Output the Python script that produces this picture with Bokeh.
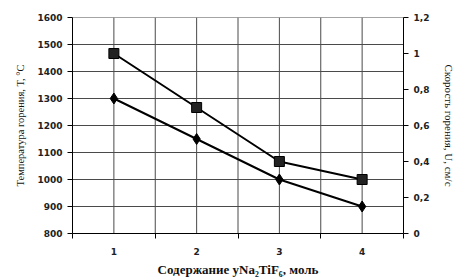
from bokeh.plotting import figure
from bokeh.models import Range1d, LinearAxis, FixedTicker, ColumnDataSource
from bokeh.embed import file_html
from bokeh.resources import INLINE

content = [1, 2, 3, 4]
temperature = [1300, 1150, 1000, 900]
speed = [1.0, 0.7, 0.4, 0.3]
x_labels = ["1", "2", "3", "4"]
x_grid = [1, 1.5, 2, 2.5, 3, 3.5, 4]
left_ticks = [800, 900, 1000, 1100, 1200, 1300, 1400, 1500, 1600]
right_ticks = [0, 0.2, 0.4, 0.6, 0.8, 1.0, 1.2]
right_labels = ["0", "0,2", "0,4", "0,6", "0,8", "1", "1,2"]

x_lo, x_hi = 0.5, 4.5
t_lo, t_hi = left_ticks[0], left_ticks[-1]

p = figure(width=463, height=279, output_backend="svg", toolbar_location=None,
           x_range=Range1d(x_lo, x_hi), y_range=Range1d(t_lo, t_hi),
           min_border_left=72, min_border_right=60, min_border_top=17, min_border_bottom=39)
p.outline_line_color = None
p.background_fill_color = "white"
p.border_fill_color = "white"
p.extra_y_ranges = {"u": Range1d(right_ticks[0], right_ticks[-1])}

tick_font = "DejaVu Sans"
grid_col = "#4a4a4a"

# x axis
xa = p.xaxis[0]
xa.ticker = FixedTicker(ticks=content, minor_ticks=[0.5, 1.5, 2.5, 3.5, 4.5])
xa.major_label_overrides = {c: l for c, l in zip(content, x_labels)}
xa.major_tick_out = 0
xa.major_tick_in = 0
xa.minor_tick_out = 5
xa.minor_tick_in = 0
xa.minor_tick_line_color = "black"
xa.axis_line_color = "black"
xa.major_label_text_font = tick_font
xa.major_label_text_font_style = "bold"
xa.major_label_text_font_size = "9px"
xa.major_label_text_color = "#222222"
xa.major_label_standoff = 9
xa.axis_label = "Содержание yNa\u2082TiF\u2086, моль"
xa.axis_label_text_font = "Liberation Serif"
xa.axis_label_text_font_style = "bold"
xa.axis_label_text_font_size = "13px"
xa.axis_label_text_color = "#111111"
xa.axis_label_standoff = 4

# left axis
ya = p.yaxis[0]
ya.ticker = FixedTicker(ticks=left_ticks)
ya.minor_tick_line_color = None
ya.major_tick_out = 5
ya.major_tick_in = 0
ya.axis_line_color = "black"
ya.major_label_text_font = tick_font
ya.major_label_text_font_style = "bold"
ya.major_label_text_font_size = "9px"
ya.major_label_text_color = "#222222"
ya.major_label_standoff = 5
ya.axis_label = "Температура горения, T, \u00b0C"
ya.axis_label_text_font = "Liberation Serif"
ya.axis_label_text_font_style = "normal"
ya.axis_label_text_font_size = "10.5px"
ya.axis_label_text_color = "#111111"
ya.axis_label_standoff = 8

# right axis
ra = LinearAxis(y_range_name="u", ticker=FixedTicker(ticks=right_ticks))
ra.major_label_overrides = {t: l for t, l in zip(right_ticks, right_labels)}
ra.minor_tick_line_color = None
ra.major_tick_out = 5
ra.major_tick_in = 0
ra.axis_line_color = "black"
ra.major_label_text_font = tick_font
ra.major_label_text_font_style = "bold"
ra.major_label_text_font_size = "9px"
ra.major_label_text_color = "#222222"
ra.major_label_standoff = 5
ra.axis_label = "Скорость горения, U, см/с"
ra.axis_label_text_font = "Liberation Serif"
ra.axis_label_text_font_style = "normal"
ra.axis_label_text_font_size = "11px"
ra.axis_label_text_color = "#111111"
ra.axis_label_standoff = 11
p.add_layout(ra, "right")

# grid lines
p.xgrid.grid_line_color = None
p.ygrid.grid_line_color = None
p.segment(x0=x_grid, x1=x_grid, y0=[t_lo] * len(x_grid), y1=[t_hi] * len(x_grid),
          line_color=grid_col, line_width=1)
hy = left_ticks[1:]
p.segment(x0=[x_lo] * len(hy), x1=[x_hi] * len(hy), y0=hy, y1=hy,
          line_color=grid_col, line_width=1)

src_t = ColumnDataSource(dict(x=content, y=temperature))
src_u = ColumnDataSource(dict(x=content, y=speed))

p.line("x", "y", source=src_t, line_color="black", line_width=2)
p.scatter("x", "y", source=src_t, marker="diamond", size=11, fill_color="black", line_color="black")
p.line("x", "y", source=src_u, y_range_name="u", line_color="black", line_width=2)
p.scatter("x", "y", source=src_u, y_range_name="u", marker="square", size=10, fill_color="#222222", line_color="black")

open("out.html", "w").write(file_html(p, INLINE))
